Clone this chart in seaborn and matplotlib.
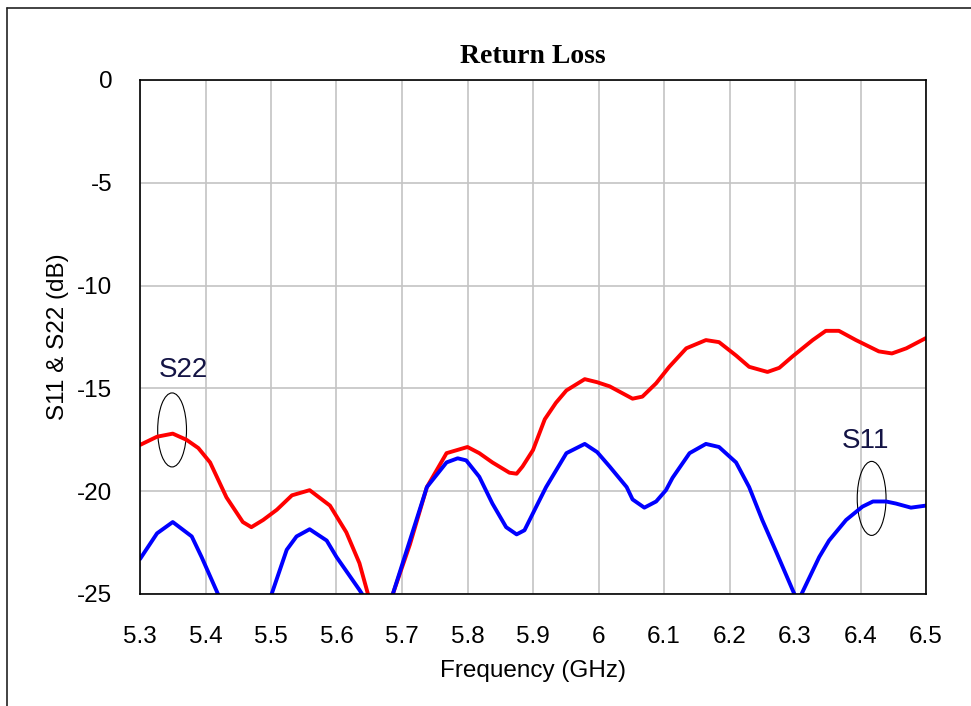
#!/usr/bin/env python3

import matplotlib.pyplot as plt
import numpy as np
import pandas as pd
import seaborn as sns
from matplotlib.lines import Line2D
from matplotlib.patches import Ellipse

sns.set_style("white")
plt.rcParams['font.family'] = ['Liberation Sans', 'DejaVu Sans']
plt.rcParams['axes.unicode_minus'] = False
plt.rcParams['text.color'] = 'black'
plt.rcParams['axes.labelcolor'] = 'black'
plt.rcParams['xtick.color'] = 'black'
plt.rcParams['ytick.color'] = 'black'

# S22 (red)
s22_freq = [5.300, 5.326, 5.350, 5.371, 5.389, 5.407, 5.432, 5.457, 5.470, 5.488,
            5.509, 5.532, 5.559, 5.590, 5.615, 5.635, 5.648, 5.667, 5.686, 5.712,
            5.738, 5.768, 5.800, 5.818, 5.838, 5.864, 5.875, 5.884, 5.900, 5.918,
            5.935, 5.951, 5.979, 5.998, 6.017, 6.052, 6.067, 6.088, 6.108, 6.134,
            6.164, 6.184, 6.210, 6.230, 6.258, 6.276, 6.296, 6.327, 6.347, 6.367,
            6.393, 6.428, 6.448, 6.470, 6.500]
s22_db = [-17.75, -17.35, -17.2, -17.5, -17.9, -18.6, -20.3, -21.5, -21.75, -21.4,
          -20.9, -20.2, -19.95, -20.7, -22.0, -23.5, -25.0, -26.5, -25.0, -22.6,
          -19.8, -18.15, -17.85, -18.15, -18.6, -19.1, -19.15, -18.8, -18.0, -16.5,
          -15.7, -15.1, -14.55, -14.7, -14.9, -15.5, -15.4, -14.75, -13.95, -13.05,
          -12.65, -12.75, -13.4, -13.95, -14.2, -14.0, -13.45, -12.65, -12.2, -12.2,
          -12.65, -13.2, -13.3, -13.05, -12.55]

# S11 (blue)
s11_freq = [5.300, 5.326, 5.350, 5.379, 5.394, 5.419, 5.460, 5.501, 5.524, 5.539,
            5.559, 5.585, 5.600, 5.635, 5.645, 5.665, 5.686, 5.712, 5.738, 5.768,
            5.785, 5.798, 5.818, 5.838, 5.859, 5.875, 5.887, 5.905, 5.920, 5.951,
            5.979, 5.998, 6.017, 6.043, 6.052, 6.070, 6.088, 6.103, 6.113, 6.139,
            6.164, 6.184, 6.210, 6.230, 6.250, 6.272, 6.299, 6.305, 6.310, 6.337,
            6.352, 6.378, 6.403, 6.419, 6.439, 6.454, 6.477, 6.500]
s11_db = [-23.3, -22.05, -21.5, -22.2, -23.2, -25.0, -28.0, -25.0, -22.85, -22.2,
          -21.85, -22.4, -23.2, -24.8, -25.3, -27.5, -25.0, -22.4, -19.8, -18.6,
          -18.4, -18.5, -19.3, -20.6, -21.75, -22.1, -21.9, -20.75, -19.8, -18.15,
          -17.7, -18.1, -18.8, -19.8, -20.4, -20.8, -20.5, -19.95, -19.35, -18.15,
          -17.7, -17.85, -18.6, -19.8, -21.4, -23.0, -25.0, -25.4, -25.0, -23.2,
          -22.4, -21.4, -20.75, -20.5, -20.5, -20.6, -20.8, -20.7]

x_ticks = [5.3, 5.4, 5.5, 5.6, 5.7, 5.8, 5.9, 6.0, 6.1, 6.2, 6.3, 6.4, 6.5]
x_labels = ['5.3', '5.4', '5.5', '5.6', '5.7', '5.8', '5.9', '6', '6.1', '6.2', '6.3', '6.4', '6.5']
y_ticks = [0, -5, -10, -15, -20, -25]

df = pd.concat([
    pd.DataFrame({'freq': s22_freq, 'db': s22_db, 'param': 'S22'}),
    pd.DataFrame({'freq': s11_freq, 'db': s11_db, 'param': 'S11'}),
])

fig, ax = plt.subplots(figsize=(9.71, 7.06), dpi=100)
fig.subplots_adjust(left=140 / 971, right=926 / 971, top=1 - 80 / 706, bottom=1 - 594 / 706)

sns.lineplot(ax=ax, data=df, x='freq', y='db', hue='param', estimator=None, sort=False,
             palette={'S22': '#ff0000', 'S11': '#0000ff'}, linewidth=2.8, legend=False)
for ln in ax.get_lines():
    ln.set_solid_joinstyle('round')
    ln.set_solid_capstyle('round')

ax.set_xlim(5.3, 6.5)
ax.set_ylim(-25, 0)
ax.set_xticks(x_ticks)
ax.set_xticklabels(x_labels)
ax.set_yticks(y_ticks)
ax.grid(True, color='#c4c4c4', linewidth=1.2)
ax.set_axisbelow(True)
ax.tick_params(axis='both', length=0, labelsize=17.5, labelcolor='black')
ax.tick_params(axis='x', pad=23)
ax.tick_params(axis='y', pad=20)
for s in ax.spines.values():
    s.set_color('black')
    s.set_linewidth(1.2)

ax.set_xlabel('Frequency (GHz)', fontsize=17.5, labelpad=9, color='black')
ax.set_ylabel('S11 & S22 (dB)', fontsize=17.5, labelpad=6, color='black')
ax.set_title('Return Loss', fontsize=20, fontweight='bold', color='black',
             family=['Liberation Serif', 'DejaVu Serif'], pad=12)

# labels with ellipses
ax.text(5.3656, -14.1, 'S22', color='#141445', fontsize=20, ha='center', va='center')
ax.add_patch(Ellipse((5.349, -17.02), 0.044, 3.6, fill=False, edgecolor='black', linewidth=0.8))
ax.text(6.407, -17.56, 'S11', color='#141445', fontsize=20, ha='center', va='center')
ax.add_patch(Ellipse((6.417, -20.35), 0.044, 3.6, fill=False, edgecolor='black', linewidth=0.8))

# outer frame (left and top edges only visible)
fig.add_artist(Line2D([7 / 971, 7 / 971], [0, 1 - 8 / 706], transform=fig.transFigure,
                      color='#222222', linewidth=1.2))
fig.add_artist(Line2D([7 / 971, 1], [1 - 8 / 706, 1 - 8 / 706], transform=fig.transFigure,
                      color='#222222', linewidth=1.2))

plt.savefig('out.png', dpi=100)
